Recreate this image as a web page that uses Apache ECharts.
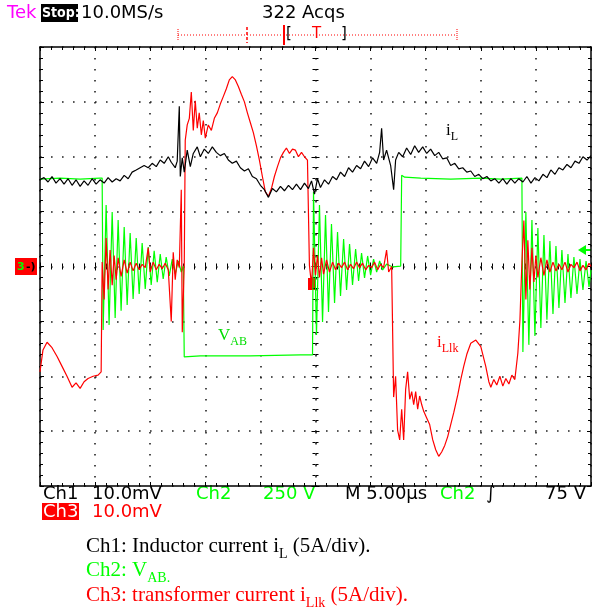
<!DOCTYPE html>
<html>
<head>
<meta charset="utf-8">
<script src="https://cdn.jsdelivr.net/npm/echarts@6/dist/echarts.min.js"></script>
<style>
  html, body { margin: 0; padding: 0; background: #fff; }
  #chart { width: 595px; height: 613px; }
</style>
</head>
<body>
<div id="chart"></div>
<script>
// scope screen: 10 div x 5 us, 8 div; currents 5 A/div, VAB 250 V/div
const timeRange = [0, 50];
const currentRange = [-20, 20];
const voltRange = [-1000, 1000];

// Ch1 inductor current iL  [t (us), A]
const iL = [
  [0,7.9],[0.36,8.1],[0.73,7.7],[1.09,8.2],[1.45,7.6],[1.82,8.0],[2.18,7.5],[2.55,8.0],[2.91,7.4],[3.27,7.9],
  [3.64,7.3],[4.0,7.8],[4.36,7.4],[4.73,8.0],[5.09,7.5],[5.45,7.9],[5.82,7.6],[6.18,8.1],[6.55,7.7],[6.91,8.0],
  [7.27,7.8],[7.64,8.3],[8.0,8.0],[8.36,8.6],[8.73,8.8],[9.09,9.0],[9.45,9.2],[9.82,9.0],[10.18,9.4],[10.55,9.1],
  [10.91,9.7],[11.27,9.4],[11.64,10.0],[11.91,9.5],[12.27,9.0],[12.45,9.6],[12.64,14.6],[12.73,8.2],[12.91,9.9],
  [13.09,8.6],[13.36,10.6],[13.64,9.1],[13.91,10.3],[14.27,10.9],[14.55,10.0],[14.91,10.7],[15.27,10.3],[15.64,10.9],[16.0,10.4],
  [16.36,10.1],[16.73,10.3],[17.09,9.7],[17.45,9.4],[17.82,9.6],[18.18,9.0],[18.55,8.7],[18.91,8.9],[19.27,8.2],
  [19.64,8.0],[20.0,7.4],[20.36,7.0],[20.73,6.3],[21.09,7.1],[21.45,6.8],[21.82,7.3],[22.18,6.9],[22.55,7.4],
  [22.91,7.0],[23.27,7.5],[23.64,7.0],[24.0,7.6],[24.36,7.1],[24.64,7.8],[24.91,6.6],[25.18,8.0],[25.45,7.2],
  [25.82,7.9],[26.18,7.5],[26.55,8.2],[26.91,7.9],[27.27,8.6],[27.64,8.2],[28.0,9.0],[28.36,8.6],[28.73,9.2],
  [29.09,8.9],[29.45,9.6],[29.82,9.1],[30.18,9.9],[30.55,9.4],[30.82,10.4],[31.0,12.6],[31.18,9.7],[31.45,10.6],
  [31.82,9.2],[32.09,7.0],[32.27,9.7],[32.55,10.4],[32.91,10.0],[33.27,10.8],[33.64,10.2],[34.0,11.0],[34.36,10.4],
  [34.73,10.9],[35.09,10.3],[35.45,10.7],[35.82,10.1],[36.18,10.4],[36.55,9.8],[36.91,9.9],[37.27,9.2],[37.64,9.4],
  [38.0,8.9],[38.36,9.0],[38.73,8.6],[39.09,8.7],[39.45,8.2],[39.82,8.4],[40.18,8.0],[40.55,8.2],[40.91,7.8],
  [41.27,8.0],[41.64,7.6],[42.0,8.0],[42.36,7.5],[42.73,8.0],[43.09,7.6],[43.45,8.0],[43.82,7.7],[44.18,8.2],
  [44.55,7.6],[44.91,8.1],[45.27,7.8],[45.64,8.4],[46.0,8.1],[46.36,8.8],[46.73,8.4],[47.09,9.0],[47.45,8.8],
  [47.82,9.3],[48.18,9.0],[48.55,9.6],[48.91,9.4],[49.27,10.0],[49.64,9.7],[50.0,10.1]
];

// Ch2 bridge voltage VAB  [t (us), V]
const vAB = [
  [0,398],[1.82,403],[3.64,398],[5.45,403],[5.64,403],[5.73,-289],[6.0,280],[6.27,-266],[6.55,248],[6.82,-234],
  [7.09,212],[7.36,-202],[7.64,180],[7.91,-175],[8.18,152],[8.45,-148],[8.73,130],[9.0,-125],[9.27,107],[9.55,-102],
  [9.82,89],[10.09,-84],[10.36,71],[10.64,-71],[10.91,57],[11.18,-57],[11.45,43],[11.73,-43],[12.0,34],[12.27,-34],
  [12.55,25],[12.82,-25],[13.0,2],[13.09,-412],[14.55,-407],[19.09,-407],[23.64,-403],[24.73,-403],[24.82,339],
  [25.09,-312],[25.36,280],[25.64,-253],[25.91,234],[26.18,-207],[26.45,193],[26.73,-166],[27.0,157],[27.27,-134],
  [27.55,125],[27.82,-107],[28.09,102],[28.36,-84],[28.64,80],[28.91,-66],[29.18,61],[29.45,-52],[29.73,48],
  [30.0,-39],[30.27,34],[30.55,-25],[30.82,25],[31.09,-16],[31.45,11],[32.0,-2],[32.73,2],[32.82,416],[33.09,407],
  [34.55,403],[37.27,398],[40.0,403],[41.82,398],[43.73,403],[43.82,-389],[44.09,248],[44.36,-357],[44.64,212],
  [44.91,-316],[45.18,175],[45.45,-280],[45.73,143],[46.0,-243],[46.27,116],[46.55,-216],[46.82,93],[47.09,-189],
  [47.36,75],[47.64,-166],[47.91,57],[48.18,-143],[48.45,43],[48.73,-125],[49.0,34],[49.27,-107],[49.55,25],
  [49.82,-93],[50.0,-16]
];

// Ch3 transformer current iLlk  [t (us), A]
const iLlk = [
  [0,-9.6],[0.27,-7.6],[0.64,-6.9],[1.09,-7.4],[1.55,-8.2],[2.0,-9.1],[2.45,-10.0],[2.91,-11.0],[3.27,-10.6],
  [3.64,-11.1],[4.0,-10.5],[4.36,-10.2],[4.82,-10.0],[5.27,-9.9],[5.55,-9.6],[5.64,0.4],[5.82,-3.0],[6.0,2.6],
  [6.18,-2.1],[6.36,1.5],[6.55,-1.7],[6.73,1.0],[6.91,-1.2],[7.09,0.8],[7.36,-0.9],[7.64,0.6],[7.91,-0.6],
  [8.18,0.4],[8.45,-0.4],[8.73,0.3],[9.0,-0.3],[9.27,0.2],[9.55,-0.1],[9.82,1.7],[10.0,-0.5],[10.27,0.4],
  [10.55,-0.3],[10.82,0.2],[11.09,-0.2],[11.36,0.3],[11.64,-0.3],[11.91,-5.0],[12.09,1.3],[12.27,-1.2],
  [12.45,0.6],[12.64,-0.1],[12.82,7.0],[12.91,-6.0],[13.09,0.1],[13.18,11.5],[13.36,12.9],[13.55,13.5],
  [13.73,15.9],[13.91,12.4],[14.09,15.1],[14.27,12.6],[14.45,14.0],[14.64,12.0],[14.82,13.3],[15.0,11.7],
  [15.27,12.9],[15.55,12.4],[15.82,13.5],[16.09,14.0],[16.36,14.8],[16.64,15.5],[16.91,16.2],[17.18,17.0],
  [17.45,17.3],[17.73,17.0],[18.0,16.4],[18.27,15.7],[18.55,15.0],[18.82,14.0],[19.09,13.1],[19.36,12.2],
  [19.64,11.0],[19.91,9.7],[20.18,8.2],[20.45,6.8],[20.73,6.4],[21.0,7.1],[21.27,8.2],[21.55,9.1],[21.82,9.9],
  [22.09,10.4],[22.36,10.8],[22.64,10.3],[22.91,10.7],[23.18,10.6],[23.45,10.0],[23.73,10.4],[24.0,10.0],
  [24.27,9.7],[24.45,0.1],[24.64,-1.7],[24.82,1.7],[25.0,-0.8],[25.18,1.0],[25.36,-1.0],[25.55,0.8],[25.73,-0.7],
  [26.0,0.6],[26.27,-0.5],[26.55,0.4],[26.82,-0.3],[27.09,0.3],[27.36,-0.1],[27.64,0.4],[27.91,-0.3],[28.18,0.2],
  [28.45,-0.2],[28.73,0.4],[29.0,-0.1],[29.27,0.3],[29.55,-0.3],[29.82,0.1],[30.09,-0.1],[30.36,0.4],[30.64,-0.3],
  [30.91,0.2],[31.18,-0.1],[31.45,1.5],[31.64,-0.5],[31.91,0.0],[32.09,-11.9],[32.27,-10.0],[32.45,-14.9],
  [32.64,-15.8],[32.82,-13.0],[33.0,-15.8],[33.18,-11.2],[33.36,-9.6],[33.55,-12.1],[33.73,-11.4],[33.91,-12.6],
  [34.09,-11.4],[34.27,-13.0],[34.45,-11.8],[34.64,-12.6],[34.82,-13.2],[35.09,-13.8],[35.36,-14.4],[35.64,-15.8],
  [35.91,-16.7],[36.18,-17.3],[36.45,-16.9],[36.73,-16.3],[37.0,-15.5],[37.27,-14.4],[37.55,-13.3],[37.91,-11.7],
  [38.18,-10.3],[38.45,-9.1],[38.73,-8.0],[39.09,-7.0],[39.55,-6.7],[40.0,-7.3],[40.45,-9.1],[40.73,-10.5],
  [40.91,-11.0],[41.18,-10.3],[41.45,-10.8],[41.73,-10.0],[42.0,-10.9],[42.27,-10.2],[42.55,-10.7],[42.82,-9.9],
  [43.09,-10.3],[43.36,-7.9],[43.55,-4.9],[43.73,0.4],[43.91,4.2],[44.09,-3.0],[44.27,2.4],[44.45,-2.1],
  [44.64,1.7],[44.82,-1.4],[45.0,1.0],[45.18,-1.0],[45.45,0.8],[45.73,-0.8],[46.0,0.6],[46.27,-0.5],[46.55,0.4],
  [46.82,-0.4],[47.09,0.2],[47.36,-0.3],[47.64,0.4],[47.91,-0.5],[48.18,0.2],[48.45,-0.1],[48.73,0.4],[49.0,-0.4],
  [49.27,0.1],[49.55,-0.3],[49.82,0.3],[50.0,0.0]
];

const headerTexts = ['Tek', 'Stop:', '10.0MS/s', '322 Acqs'];
const footerRow1 = ['Ch1', '10.0mV', 'Ch2', '250 V', 'M 5.00\u00b5s', 'Ch2', '\u222b', '75 V'];
const footerRow2 = ['Ch3', '10.0mV'];

const GREEN = '#00ff00';
const RED = '#ff0000';
const MAGENTA = '#ff00ff';
const scopeFont = '18px "DejaVu Sans", sans-serif';
const serif = '"Liberation Serif", "Times New Roman", serif';

const chart = echarts.init(document.getElementById('chart'), null, { renderer: 'canvas' });

const tickBase = {
    axisLabel: { show: false },
    axisTick: { show: true, inside: true, length: 4, lineStyle: { color: '#000', width: 1 } },
    minorTick: { show: true, splitNumber: 5, length: 3, lineStyle: { color: '#000', width: 1 } },
};

// scope graticule: one dot every fifth of a division
const dotted = { show: true, lineStyle: { color: '#222', width: 1.6, type: [1.6, 9.4] } };

const frameX = (position, offset, line, grid) => ({
    type: 'value', min: timeRange[0], max: timeRange[1], interval: 5, position, offset,
    axisLine: { show: line, onZero: false, lineStyle: { color: '#000', width: 1.5 } },
    ...tickBase,
    splitLine: grid ? dotted : { show: false },
});

const frameY = (position, offset, line, grid) => ({
    type: 'value', min: currentRange[0], max: currentRange[1], interval: 5, position, offset,
    axisLine: { show: line, onZero: false, lineStyle: { color: '#000', width: 1.5 } },
    ...tickBase,
    splitLine: grid ? dotted : { show: false },
});

const sub = (main, small, color, size) => ({
    type: 'text',
    style: {
        text: `{m|${main}}{s|${small}}`,
        fill: color,
        rich: {
            m: { fontFamily: serif, fontSize: size, lineHeight: size + 4, fill: color, verticalAlign: 'top' },
            s: { fontFamily: serif, fontSize: Math.round(size * 0.68), lineHeight: Math.round(size * 0.68), fill: color, verticalAlign: 'bottom' },
        },
    },
});

const caption = (y, text, color) => ({
    type: 'text', x: 86, y,
    style: {
        text, fill: color,
        rich: {
            m: { fontFamily: serif, fontSize: 21, lineHeight: 25, fill: color, verticalAlign: 'top' },
            s: { fontFamily: serif, fontSize: 14, lineHeight: 14, fill: color, verticalAlign: 'bottom' },
        },
    },
});

const scopeText = (x, y, text, fill, extra) => ({
    type: 'text', x, y,
    style: { text, font: scopeFont, fill, textVerticalAlign: 'middle', ...(extra || {}) },
});

const option = {
    animation: false,
    backgroundColor: '#fff',
    grid: { left: 40, top: 47, right: 4, bottom: 127 },
    xAxis: [
        frameX('bottom', 0, true, true),
        frameX('top', 0, true, false),
        frameX('top', -219.5, false, false),
        frameX('bottom', -219.5, false, false),
    ],
    yAxis: [
        frameY('left', 0, true, true),
        frameY('right', 0, true, false),
        frameY('left', -275.5, false, false),
        frameY('right', -275.5, false, false),
        { type: 'value', min: voltRange[0], max: voltRange[1], show: false,
          axisLine: { onZero: false }, splitLine: { show: false } },
    ],
    series: [
        { name: 'VAB', type: 'line', data: vAB, yAxisIndex: 4, showSymbol: false, z: 3,
          lineStyle: { color: GREEN, width: 1.2 } },
        { name: 'iLlk', type: 'line', data: iLlk, showSymbol: false, z: 4,
          lineStyle: { color: RED, width: 1.2 } },
        { name: 'iL', type: 'line', data: iL, showSymbol: false, z: 5,
          lineStyle: { color: '#000', width: 1.2 } },
    ],
    graphic: [
        // header readouts
        scopeText(7, 13, headerTexts[0], MAGENTA),
        { type: 'rect', shape: { x: 41, y: 4, width: 37, height: 18 }, style: { fill: '#000' } },
        { type: 'text', x: 42, y: 13, style: { text: headerTexts[1], font: 'bold 14px "DejaVu Sans Condensed", "Liberation Sans Narrow", sans-serif', fill: '#fff', textVerticalAlign: 'middle' } },
        scopeText(81, 13, headerTexts[2], '#000'),
        scopeText(262, 13, headerTexts[3], '#000'),
        // trigger position bar
        { type: 'line', shape: { x1: 178, y1: 35, x2: 457, y2: 35 }, style: { stroke: RED, lineWidth: 1, lineDash: [1, 2] } },
        { type: 'line', shape: { x1: 178, y1: 29, x2: 178, y2: 41 }, style: { stroke: RED, lineWidth: 1, lineDash: [1, 1] } },
        { type: 'line', shape: { x1: 457, y1: 29, x2: 457, y2: 41 }, style: { stroke: RED, lineWidth: 1, lineDash: [1, 1] } },
        { type: 'line', shape: { x1: 247, y1: 27, x2: 247, y2: 43 }, style: { stroke: RED, lineWidth: 1.5, lineDash: [3, 2] } },
        { type: 'line', shape: { x1: 284, y1: 25, x2: 284, y2: 45 }, style: { stroke: RED, lineWidth: 2 } },
        { type: 'text', x: 286, y: 34, style: { text: '[', font: '15px "DejaVu Sans", sans-serif', fill: '#000', textVerticalAlign: 'middle' } },
        { type: 'text', x: 312, y: 34, style: { text: 'T', font: '15px "DejaVu Sans", sans-serif', fill: RED, textVerticalAlign: 'middle' } },
        { type: 'text', x: 341, y: 34, style: { text: ']', font: '15px "DejaVu Sans", sans-serif', fill: '#000', textVerticalAlign: 'middle' } },
        // channel ground markers
        { type: 'rect', shape: { x: 15, y: 258, width: 22, height: 17 }, style: { fill: RED } },
        { type: 'text', x: 17, y: 267, style: { text: '3', font: 'bold 11px "DejaVu Sans", sans-serif', fill: GREEN, textVerticalAlign: 'middle' } },
        { type: 'text', x: 26, y: 267, style: { text: '-)', font: 'bold 11px "DejaVu Sans", sans-serif', fill: '#000', textVerticalAlign: 'middle' } },
        { type: 'rect', shape: { x: 308, y: 278, width: 8, height: 12 }, style: { fill: RED } },
        { type: 'polygon', shape: { points: [[578, 250], [586, 245], [586, 255]] }, style: { fill: GREEN } },
        { type: 'line', shape: { x1: 584, y1: 250, x2: 591, y2: 250 }, style: { stroke: GREEN, lineWidth: 2 } },
        // trace labels
        { ...sub('i', 'L', '#000', 17), x: 446, y: 122 },
        { ...sub('V', 'AB', '#00dd00', 17), x: 218, y: 327 },
        { ...sub('i', 'Llk', RED, 17), x: 437, y: 334 },
        // footer readouts
        scopeText(43, 494, footerRow1[0], '#000'),
        scopeText(92, 494, footerRow1[1], '#000'),
        scopeText(196, 494, footerRow1[2], GREEN),
        scopeText(263, 494, footerRow1[3], GREEN),
        scopeText(345, 494, footerRow1[4], '#000'),
        scopeText(440, 494, footerRow1[5], GREEN),
        scopeText(486, 494, footerRow1[6], '#000'),
        scopeText(586, 494, footerRow1[7], '#000', { textAlign: 'right' }),
        { type: 'rect', shape: { x: 42, y: 503, width: 37, height: 17 }, style: { fill: RED } },
        scopeText(43, 512, footerRow2[0], '#fff'),
        scopeText(92, 512, footerRow2[1], RED),
        // caption
        caption(536, '{m|Ch1: Inductor current i}{s|L}{m| (5A/div).}', '#000'),
        caption(560, '{m|Ch2: V}{s|AB.}', GREEN),
        caption(585, '{m|Ch3: transformer current i}{s|Llk}{m| (5A/div).}', RED),
    ],
};

chart.setOption(option);
</script>
</body>
</html>
